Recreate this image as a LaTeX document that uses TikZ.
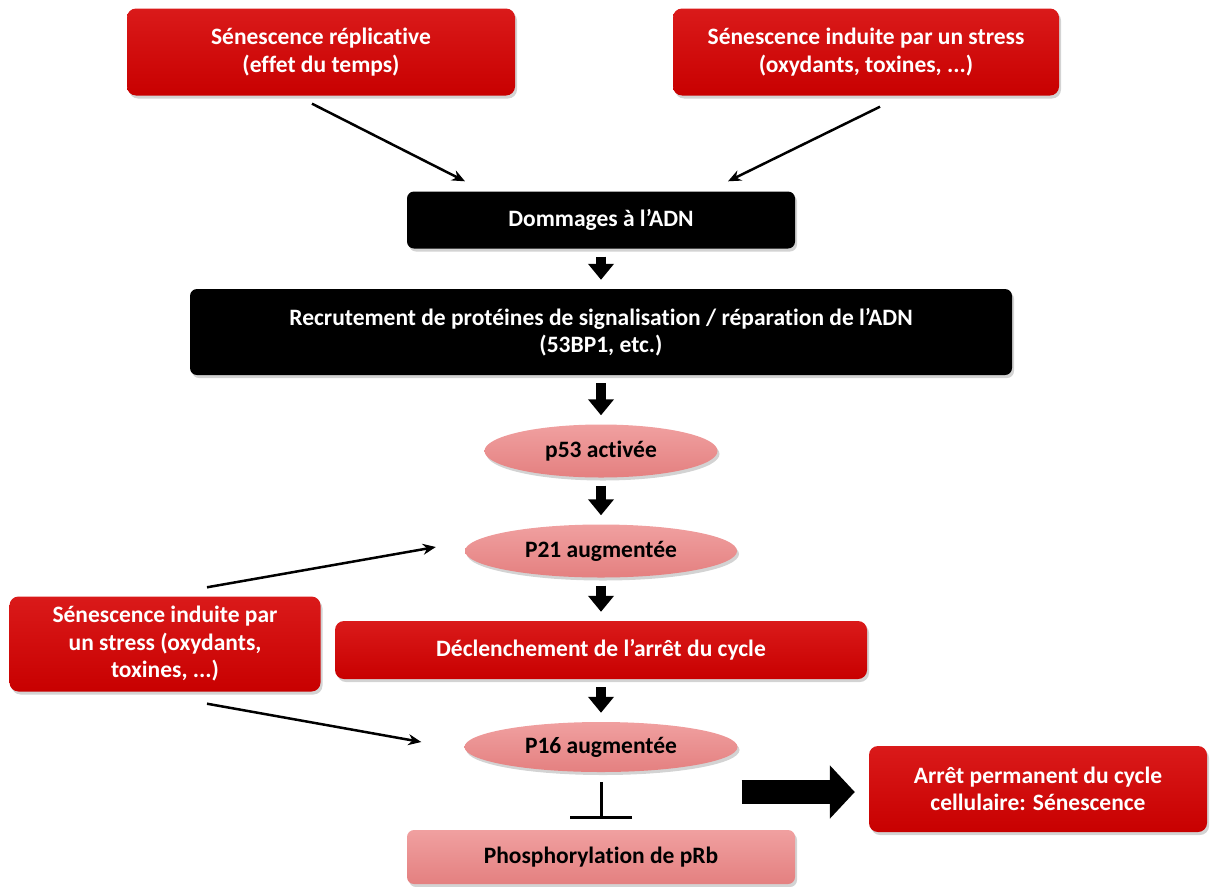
\documentclass[tikz,border=0pt]{standalone}
\usepackage{fontspec}
\setmainfont{Carlito}[Ligatures=NoCommon]
\usetikzlibrary{arrows.meta,shapes.geometric,shadows,calc}

\definecolor{boxred}{RGB}{200,0,0}
\definecolor{boxredtop}{RGB}{218,26,26}
\definecolor{boxpink}{RGB}{228,128,128}
\definecolor{boxpinktop}{RGB}{240,160,160}

\begin{document}
\begin{tikzpicture}[x=1pt,y=-1pt,
  every node/.style={font=\fontsize{23.5}{27.5}\selectfont\bfseries, align=center, inner sep=0pt},
  boxshadow/.style={drop shadow={shadow xshift=2pt,shadow yshift=-3pt,opacity=0.35}},
  redbox/.style={rectangle, rounded corners=9pt, top color=boxredtop, bottom color=boxred, text=white, boxshadow},
  blackbox/.style={rectangle, rounded corners=7pt, fill=black, text=white, boxshadow},
  pinkoval/.style={ellipse, top color=boxpinktop, bottom color=boxpink, text=black, boxshadow},
  pinkbox/.style={rectangle, rounded corners=7pt, top color=boxpinktop, bottom color=boxpink, text=black, boxshadow},
  thinarrow/.style={line width=2.5pt, -{Stealth[length=13pt,width=11pt]}},
  blockarrow/.style={line width=10pt, -{Triangle[length=16pt,width=25pt]}, shorten <=8pt, shorten >=9pt},
  bigarrow/.style={line width=24pt, -{Triangle[length=25pt,width=52pt]}, shorten >=14pt},
  inhibit/.style={line width=3pt, -{Bar[width=62pt]}, shorten <=10pt, shorten >=11pt}]
  \useasboundingbox (0,0) rectangle (1214,886);

  % entrees du haut
  \node[redbox,minimum width=388pt,minimum height=87pt] (rep) at (321,52) {Sénescence réplicative\\(effet du temps)};
  \node[redbox,minimum width=386pt,minimum height=87pt] (stress) at (866,52) {Sénescence induite par un stress\\(oxydants, toxines, ...)};

  % voie centrale
  \node[blackbox,minimum width=388pt,minimum height=57pt] (dna) at (601,220) {Dommages à l’ADN};
  \node[blackbox,minimum width=822pt,minimum height=86pt] (recr) at (601,332) {Recrutement de protéines de signalisation / réparation de l’ADN\\(53BP1, etc.)};
  \node[pinkoval,minimum width=233pt,minimum height=53pt] (p53) at (601,451) {p53 activée};
  \node[pinkoval,minimum width=272pt,minimum height=53pt] (p21) at (601,551) {P21 augmentée};
  \node[redbox,minimum width=532pt,minimum height=58pt] (arret) at (601,650) {Déclenchement de l’arrêt du cycle};
  \node[pinkoval,minimum width=273pt,minimum height=50pt] (p16) at (601,747) {P16 augmentée};
  \node[pinkbox,minimum width=388pt,minimum height=54pt] (prb) at (601,857) {Phosphorylation de pRb};

  % entree laterale et sortie
  \node[redbox,minimum width=311pt,minimum height=95pt] (lat) at (165,644) {Sénescence induite par\\un stress (oxydants,\\toxines, ...)};
  \node[redbox,minimum width=338pt,minimum height=86pt] (senes) at (1038,789) {Arrêt permanent du cycle\\cellulaire: Sénescence};

  % fleches fines
  \draw[thinarrow] ($(rep.south)+(-9,8)$) -- ($(dna.north)+(-136,-10)$);
  \draw[thinarrow] ($(stress.south)+(14,11)$) -- ($(dna.north)+(127,-10)$);
  \draw[thinarrow] ($(lat.north)+(42,-9)$) -- ($(p21.west)+(-29,-4)$);
  \draw[thinarrow] ($(lat.south)+(42,12)$) -- ($(p16.west)+(-43,-5)$);

  % fleches pleines
  \draw[blockarrow] (dna.south) -- (recr.north);
  \draw[blockarrow] (recr.south) -- (p53.north);
  \draw[blockarrow] (p53.south) -- (p21.north);
  \draw[blockarrow] (p21.south) -- (arret.north);
  \draw[blockarrow] (arret.south) -- (p16.north);
  \draw[inhibit] (p16.south) -- (prb.north);

  \coordinate (bigtail) at ($(p16.east)+(4,45)$);
  \draw[bigarrow] (bigtail) -- (bigtail -| senes.west);
\end{tikzpicture}
\end{document}
